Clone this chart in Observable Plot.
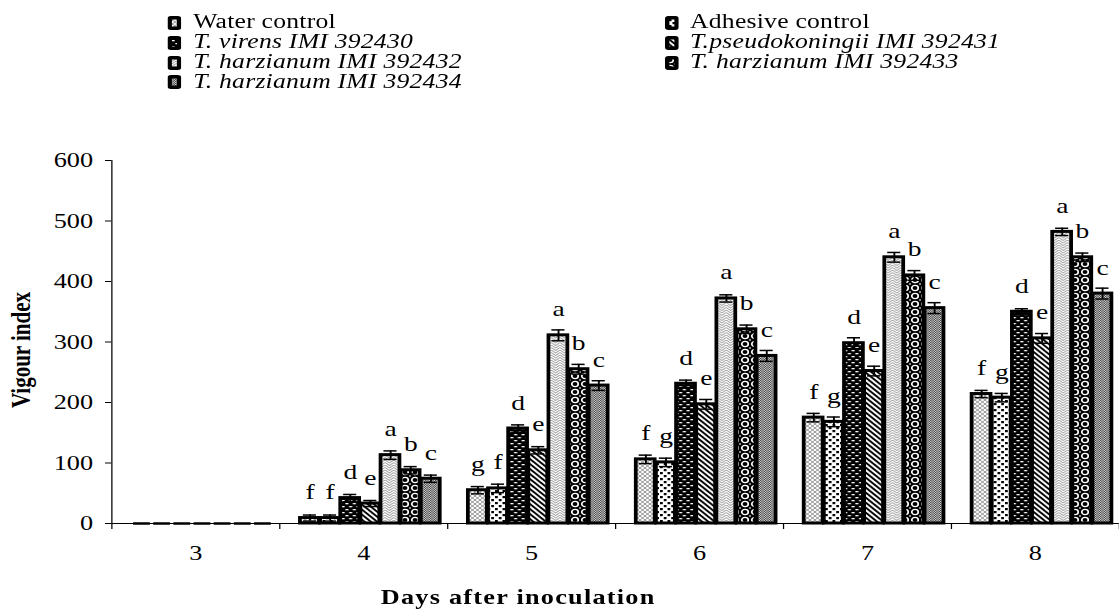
<!DOCTYPE html>
<html><head><meta charset="utf-8">
<script src="https://cdn.jsdelivr.net/npm/d3@7"></script>
<script src="https://cdn.jsdelivr.net/npm/@observablehq/plot@0.6"></script>
<style>
html,body{margin:0;padding:0;background:#fff;}
#wrap{position:relative;width:895px;transform:scaleX(1.25);transform-origin:0 0;font-family:"Liberation Serif","Times New Roman",serif;}
#legend{position:relative;height:100px;}
.item{position:absolute;font-size:20.5px;line-height:18px;white-space:nowrap;color:#000;letter-spacing:0.2px;}
.sw{position:absolute;}
</style></head><body>
<svg width="0" height="0" style="position:absolute">
<defs>
<pattern id="pat0" width="4" height="4" patternUnits="userSpaceOnUse"><rect width="4" height="4" fill="#fff"/><path d="M0,0L4,4M4,0L0,4" stroke="#888" stroke-width="0.8"/></pattern>
<pattern id="pat1" width="6" height="6" patternUnits="userSpaceOnUse"><rect width="6" height="6" fill="#fff"/><rect x="0" y="0" width="2.2" height="2.2" fill="#000"/><rect x="3" y="3" width="2.2" height="2.2" fill="#000"/></pattern>
<pattern id="pat2" width="6" height="6" patternUnits="userSpaceOnUse"><rect width="6" height="6" fill="#000"/><rect x="0.3" y="1" width="2.4" height="1.3" fill="#fff"/><rect x="3.3" y="4" width="2.4" height="1.3" fill="#fff"/></pattern>
<pattern id="pat3" width="5" height="5" patternUnits="userSpaceOnUse"><rect width="5" height="5" fill="#fff"/><path d="M-1,-1L6,6M-1,4L1,6M4,-1L6,1" stroke="#000" stroke-width="1.7"/></pattern>
<pattern id="pat4" width="7" height="5" patternUnits="userSpaceOnUse"><rect width="7" height="5" fill="#fff"/><path d="M0,0L3.5,3L7,0M0,2.5L3.5,5.5L7,2.5M0,-2.5L3.5,0.5L7,-2.5" stroke="#999" stroke-width="0.9" fill="none"/></pattern>
<pattern id="pat5" width="8" height="8" patternUnits="userSpaceOnUse"><rect width="8" height="8" fill="#000"/><circle cx="4" cy="4" r="2.6" fill="#000" stroke="#fff" stroke-width="1.3"/><circle cx="0" cy="0" r="0.8" fill="#fff"/><circle cx="8" cy="8" r="0.8" fill="#fff"/><circle cx="0" cy="8" r="0.8" fill="#fff"/><circle cx="8" cy="0" r="0.8" fill="#fff"/></pattern>
<pattern id="pat6" width="2" height="2" patternUnits="userSpaceOnUse"><rect width="2" height="2" fill="#d0d0d0"/><rect x="0" y="0" width="1" height="1" fill="#444"/><rect x="1" y="1" width="1" height="1" fill="#444"/></pattern>
</defs></svg>
<div id="wrap"><div id="legend"></div><div id="chart"></div></div>
<script>
// ---- data ----
const days = [3, 4, 5, 6, 7, 8];
const seriesNames = ["Water control", "Adhesive control", "T. virens IMI 392430", "T.pseudokoningii IMI 392431", "T. harzianum IMI 392432", "T. harzianum IMI 392433", "T. harzianum IMI 392434"];
const seriesItalic = [false, false, true, true, true, true, true];
const waterControl    = [0, 9, 55, 106, 175, 214];
const adhesiveControl = [0, 9, 58, 101, 168, 208];
const tVirens430      = [0, 42, 157, 231, 298, 350];
const tPseudo431      = [0, 33, 121, 197, 252, 306];
const tHarz432        = [0, 113, 311, 372, 440, 482];
const tHarz433        = [0, 88, 255, 321, 410, 440];
const tHarz434        = [0, 74, 228, 277, 356, 380];
const waterErr    = [0, 5, 6, 7, 7, 6];
const adhesiveErr = [0, 5, 7, 7, 8, 7];
const virensErr   = [0, 6, 6, 6, 9, 5];
const pseudoErr   = [0, 5, 6, 8, 8, 8];
const harz432Err  = [0, 7, 9, 6, 8, 6];
const harz433Err  = [0, 6, 8, 7, 8, 7];
const harz434Err  = [0, 6, 8, 9, 9, 9];
const lettersDay3 = ["", "", "", "", "", "", ""];
const lettersDay4 = ["f", "f", "d", "e", "a", "b", "c"];
const lettersDay5 = ["g", "f", "d", "e", "a", "b", "c"];
const lettersDay6 = ["f", "g", "d", "e", "a", "b", "c"];
const lettersDay7 = ["f", "g", "d", "e", "a", "b", "c"];
const lettersDay8 = ["f", "g", "d", "e", "a", "b", "c"];
const yTicks = [0, 100, 200, 300, 400, 500, 600];
const xTitle = "Days after inoculation";
const yTitle = "Vigour index";

const seriesValues = [waterControl, adhesiveControl, tVirens430, tPseudo431, tHarz432, tHarz433, tHarz434];
const seriesErr = [waterErr, adhesiveErr, virensErr, pseudoErr, harz432Err, harz433Err, harz434Err];
const dayLetters = [lettersDay3, lettersDay4, lettersDay5, lettersDay6, lettersDay7, lettersDay8];

const data = [];
seriesValues.forEach((vals, s) => days.forEach((day, k) => data.push({day, s, v: vals[k], e: seriesErr[s][k], letter: dayLetters[k][s]})));
const errData = data.filter(d => d.v > 0);
const zeroData = data.filter(d => d.v === 0);
const letterData = data.filter(d => d.letter);

// ---- legend ----
const legend = document.getElementById("legend");
seriesNames.forEach((name, i) => {
  const row = Math.floor(i / 2), col = i % 2;
  const base = 28 + 19.8 * row;
  const swX = col ? 532 : 133.5, txX = col ? 552 : 154.5;
  const sw = document.createElementNS("http://www.w3.org/2000/svg", "svg");
  sw.setAttribute("class", "sw"); sw.setAttribute("width", 11); sw.setAttribute("height", 14);
  sw.style.left = swX + "px"; sw.style.top = (base - 12) + "px";
  sw.innerHTML = `<rect x="1.75" y="1.75" width="7.5" height="10.5" rx="1" fill="url(#pat${i})" stroke="#000" stroke-width="3.5"/>`;
  legend.appendChild(sw);
  const t = document.createElement("div");
  t.className = "item"; t.textContent = name;
  t.style.left = txX + "px"; t.style.top = (base - 15.9) + "px";
  if (seriesItalic[i]) t.style.fontStyle = "italic";
  legend.appendChild(t);
});

// ---- chart ----
const off = 0.12, w = 0.12, cap = 0.039;
const x1 = d => d.day - 0.5 + off + d.s * w;
const xc = d => x1(d) + w / 2;
const boundaries = days.map(d => d - 0.5).concat([days[days.length - 1] + 0.5]);

const chart = Plot.plot({
  width: 895, height: 509,
  marginLeft: 89, marginRight: 0, marginTop: 60, marginBottom: 86,
  style: {fontFamily: "Liberation Serif, Times New Roman, serif", fontSize: "21px", color: "#000", background: "#fff", overflow: "visible"},
  x: {type: "linear", domain: [2.5, 8.5]},
  y: {domain: [0, 600]},
  marks: [
    ...seriesNames.map((name, s) => Plot.rect(data.filter(d => d.s === s && d.v > 0), {
      x1, x2: d => x1(d) + w, y1: 0, y2: "v",
      fill: `url(#pat${s})`, stroke: "#000", strokeWidth: 3, insetLeft: 0.5, insetRight: 0.5
    })),
    Plot.ruleY(zeroData, {y: "v", x1: d => x1(d) + 0.01, x2: d => x1(d) + w - 0.01, stroke: "#000", strokeWidth: 2.5}),
    Plot.ruleX(errData, {x: xc, y1: d => d.v - d.e, y2: d => d.v + d.e, stroke: "#000", strokeWidth: 1.5}),
    Plot.ruleY(errData, {y: d => d.v + d.e, x1: d => xc(d) - cap, x2: d => xc(d) + cap, stroke: "#000", strokeWidth: 1.5}),
    Plot.ruleY(errData, {y: d => d.v - d.e, x1: d => xc(d) - cap, x2: d => xc(d) + cap, stroke: "#000", strokeWidth: 1.5}),
    Plot.text(letterData, {x: xc, y: "v", text: "letter", lineAnchor: "bottom", dy: -19, fontSize: 22, fill: "#000"}),
    Plot.ruleY([0], {stroke: "#000", strokeWidth: 1}),
    Plot.ruleX([2.5], {stroke: "#000", strokeWidth: 1}),
    Plot.axisY({ticks: yTicks, tickSize: 5, tickPadding: 10, label: null, fontSize: 21, tickFormat: d => String(d)}),
    Plot.axisX({ticks: boundaries, tickSize: 6, tickFormat: () => "", label: null}),
    Plot.axisX({ticks: days, tickSize: 0, tickPadding: 22, tickFormat: d => String(d), label: null, fontSize: 21}),
    Plot.text([xTitle], {text: d => d, frameAnchor: "bottom", textAnchor: "middle", lineAnchor: "middle", dx: -78, dy: 74, fontWeight: "bold", fontSize: 21}),
    Plot.text([yTitle], {text: d => d, frameAnchor: "left", textAnchor: "middle", lineAnchor: "middle", rotate: -90, dx: -72, dy: 8, fontWeight: "bold", fontSize: 21})
  ]
});
d3.select(chart).selectAll("text").filter(function() { return this.textContent === xTitle; }).style("letter-spacing", "1px");
document.getElementById("chart").appendChild(chart);
</script>
</body></html>
